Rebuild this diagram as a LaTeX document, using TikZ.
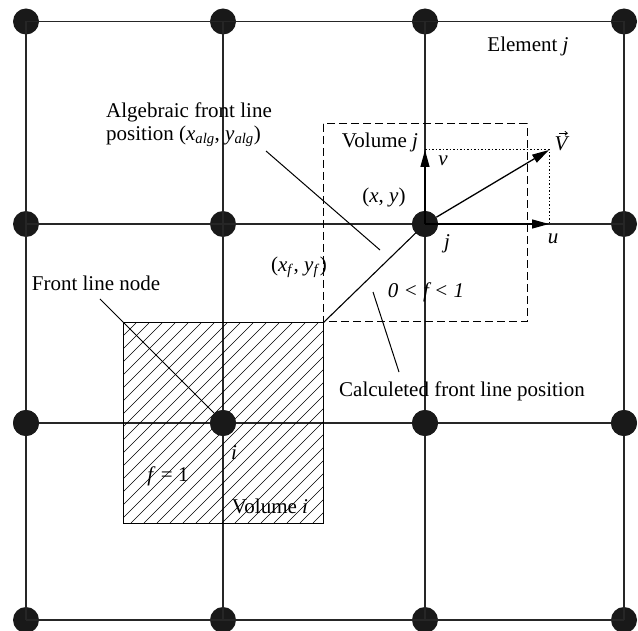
\documentclass[tikz,border=0pt]{standalone}
\usepackage{fontspec}
\setmainfont{Liberation Serif}
\usetikzlibrary{arrows.meta}
\begin{document}
\begin{tikzpicture}[x=1pt,y=-1pt,
  gridline/.style={line width=1.3pt,black!85},
  dot/.style={circle,fill=black!90,inner sep=0pt,minimum size=26pt},
  lbl/.style={font=\fontsize{21}{25}\selectfont,inner sep=0pt},
  ptr/.style={line width=1pt},
  hatch/.style={line width=0.65pt},
  vec/.style={line width=1.3pt,-{Triangle[length=17pt,width=9pt]}},
  dotline/.style={line width=1pt,dash pattern=on 1.5pt off 2pt},
  dashbox/.style={line width=1pt,dash pattern=on 8pt off 4pt}]
\useasboundingbox (0,0) rectangle (638,631);
% grid nodes
\foreach \c/\x in {1/26,2/223,3/425,4/624}{
  \foreach \r/\y in {1/21.5,2/224,3/423,4/620}{
    \node[dot] (n\c\r) at (\x,\y) {};
  }
}
% grid lines
\foreach \c in {1,2,3,4}{
  \draw[gridline] (n\c1.center) -- (n\c4.center);
  \draw[gridline] (n1\c.center) -- (n4\c.center);
}
% hatched volume i
\begin{scope}
  \clip (123,323) rectangle (323,523);
  \foreach \k in {0,...,32}{
    \draw[hatch] (123-200+13*\k,523) -- ++(200,-200);
  }
\end{scope}
\draw[line width=1pt] (123,323) rectangle (323,523);
\foreach \c in {1,2,3,4}{
  \node[dot] at (n\c3) {};
}
% dashed volume j
\draw[dashbox] (323,124) rectangle (527,322);
% front line
\coordinate (xf) at (323,323);
\draw[line width=1.1pt] (xf) -- (n32.center);
\node[dot] at (n32) {};
% velocity
\coordinate (vtip) at (425,150);
\coordinate (utip) at (549,224);
\coordinate (Vtip) at (549,150);
\draw[dotline] (vtip) -- (Vtip) -- (utip);
\draw[vec] (n32.center) -- (vtip);
\draw[vec] (n32.center) -- (utip);
\draw[vec] (n32) -- (Vtip);
% labels
\node[lbl] (elj) at (528,46) {Element \textit{j}};
\node[lbl,align=left,anchor=west] (alg) at (106,125) {Algebraic front line\\[-2pt]position (\textit{x}\textsubscript{\textit{alg}}, \textit{y}\textsubscript{\textit{alg}})};
\node[lbl] (volj) at (380,142) {Volume \textit{j}};
\node[lbl] (vl) at (443,161) {\textit{v}};
\node[lbl] (xy) at (384,197) {(\textit{x}, \textit{y})};
\node[lbl] (jl) at (447,244) {\textit{j}};
\node[lbl] (ul) at (553,239) {\textit{u}};
\node[lbl] (Vl) at (562,144) {\textit{V}};
\draw[line width=0.8pt,-{Straight Barb[length=2.5pt,width=4pt]}] ([xshift=-3pt,yshift=3.5pt]Vl.north) -- ([xshift=6pt,yshift=3.5pt]Vl.north);
\node[lbl] (xfl) at (299,267) {(\textit{x}\textsubscript{\textit{f}}, \textit{y}\textsubscript{\textit{f}})};
\node[lbl] (frac) at (426,292) {\textit{0 < f < 1}};
\node[lbl] (calc) at (462,391) {Calculeted front line position};
\node[lbl] (fln) at (96,283) {Front line node};
\node[lbl] (f1) at (168,476) {\textit{f} = 1};
\node[lbl] (il) at (234,453) {\textit{i}};
\node[lbl] (voli) at (270,506) {Volume \textit{i}};
% pointer lines
\coordinate (a1) at (266,151);
\coordinate (a2) at (380,250);
\draw[ptr] (a1) -- (a2);
\coordinate (c1) at (373,292);
\coordinate (c2) at (399,372);
\draw[ptr] (c1) -- (c2);
\coordinate (f1a) at (100,299);
\coordinate (f1b) at (214,413);
\draw[ptr] (f1a) -- (f1b);
\end{tikzpicture}
\end{document}
